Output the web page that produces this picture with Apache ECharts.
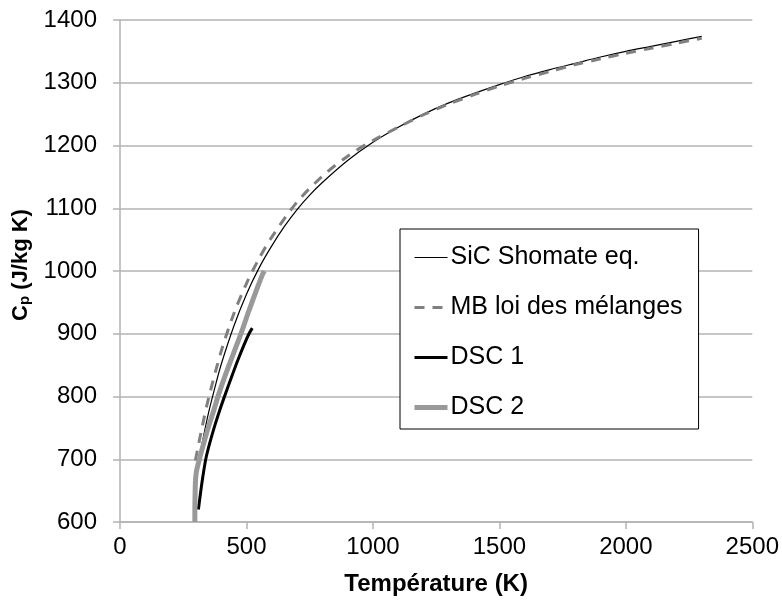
<!DOCTYPE html>
<html>
<head>
<meta charset="utf-8">
<script src="https://cdn.jsdelivr.net/npm/echarts@6/dist/echarts.min.js"></script>
<style>
  html, body { margin: 0; padding: 0; background: #fff; }
  #chart { width: 782px; height: 603px; }
</style>
</head>
<body>
<div id="chart"></div>
<script>
// SiC Shomate eq.
var shomateT = [300, 325, 350, 375, 400, 450, 500, 550, 600, 650, 700, 750, 800, 900, 1000, 1100, 1200, 1300, 1400, 1500, 1600, 1700, 1800, 1900, 2000, 2100, 2200, 2300];
var shomateCp = [672, 726, 774, 814, 851, 912, 963, 1005, 1040, 1071, 1098, 1121, 1141, 1176, 1205, 1229, 1250, 1268, 1283, 1297, 1310, 1321, 1331, 1341, 1350, 1358, 1366, 1374];
// MB loi des mélanges
var mbT = [298, 325, 350, 400, 450, 500, 550, 600, 700, 800, 900, 1000, 1100, 1200, 1300, 1400, 1500, 1600, 1700, 1800, 1900, 2000, 2100, 2200, 2300];
var mbCp = [698, 752, 797, 872, 932, 980, 1020, 1054, 1110, 1151, 1183, 1208, 1229, 1249, 1266, 1281, 1295, 1307, 1318, 1329, 1338, 1347, 1355, 1363, 1371];
// DSC 1
var dsc1T = [310, 318, 326, 339, 355, 375, 395, 414, 440, 465, 490, 510, 523];
var dsc1Cp = [620, 645, 668, 700, 726, 754, 779, 801, 830, 857, 882, 900, 909];
// DSC 2
var dsc2T = [296, 296, 297, 298, 302, 314, 330, 350, 370, 388, 420, 450, 479, 510, 540, 564, 571];
var dsc2Cp = [600, 620, 645, 662, 680, 700, 724, 752, 777, 801, 838, 870, 901, 937, 970, 995, 1000];

var xTicks = [0, 500, 1000, 1500, 2000, 2500];
var yTicks = [600, 700, 800, 900, 1000, 1100, 1200, 1300, 1400];

function pairs(xs, ys) {
  return xs.map(function (x, i) { return [x, ys[i]]; });
}

var chart = echarts.init(document.getElementById('chart'));
var font = 'Arial, "Liberation Sans", sans-serif';
var gridGray = '#b3b3b3';

var option = {
  backgroundColor: '#fff',
  animation: false,
  textStyle: { fontFamily: font },
  grid: { left: 120, right: 29, top: 20, bottom: 81 },
  xAxis: {
    type: 'value',
    min: xTicks[0],
    max: xTicks[xTicks.length - 1],
    interval: 500,
    name: 'Température (K)',
    nameLocation: 'middle',
    nameGap: 50,
    nameTextStyle: { fontSize: 24, fontWeight: 'bold', color: '#000', fontFamily: font },
    axisLine: { lineStyle: { color: gridGray, width: 1.5 } },
    axisTick: { show: true, length: 7, lineStyle: { color: gridGray, width: 1.5 } },
    axisLabel: { fontSize: 24, color: '#000', margin: 13, fontFamily: font, formatter: function (v) { return String(v); } },
    splitLine: { show: false }
  },
  yAxis: {
    type: 'value',
    min: yTicks[0],
    max: yTicks[yTicks.length - 1],
    interval: 100,
    name: '{c|C}{p|p}{c| (J/kg K)}',
    nameLocation: 'middle',
    nameGap: 88,
    nameTextStyle: {
      padding: [0, 0, 0, 12],
      rich: {
        c: { fontSize: 22, fontWeight: 'bold', color: '#000', fontFamily: font },
        p: { fontSize: 15, fontWeight: 'bold', color: '#000', fontFamily: font, padding: [8, 0, 0, 0] }
      }
    },
    axisLine: { show: true, lineStyle: { color: gridGray, width: 1.5 } },
    axisTick: { show: true, length: 7, lineStyle: { color: gridGray, width: 1.5 } },
    axisLabel: { fontSize: 24, color: '#000', margin: 23, fontFamily: font, formatter: function (v) { return String(v); } },
    splitLine: { show: true, lineStyle: { color: gridGray, width: 1.5 } }
  },
  legend: {
    orient: 'vertical',
    left: 400,
    top: 229,
    padding: [15, 16, 8, 12],
    itemGap: 23,
    itemWidth: 33,
    itemHeight: 14,
    backgroundColor: '#fff',
    borderColor: '#000',
    borderWidth: 1,
    borderRadius: 0,
    itemStyle: { opacity: 0 },
    textStyle: { fontSize: 25, color: '#000', fontFamily: font, lineHeight: 27, padding: [0, 0, 0, -2] },
    data: [
      { name: 'SiC Shomate eq.', lineStyle: { width: 1.2 } },
      { name: 'MB loi des mélanges', lineStyle: { width: 3 } },
      { name: 'DSC 1', lineStyle: { width: 3 } },
      { name: 'DSC 2', lineStyle: { width: 5 } }
    ]
  },
  series: [
    {
      name: 'SiC Shomate eq.',
      type: 'line',
      showSymbol: false,
      symbol: 'none',
      smooth: 0.3,
      lineStyle: { color: '#000', width: 1.2 },
      itemStyle: { color: '#000' },
      data: pairs(shomateT, shomateCp)
    },
    {
      name: 'MB loi des mélanges',
      type: 'line',
      showSymbol: false,
      symbol: 'none',
      smooth: 0.3,
      lineStyle: { color: '#808080', width: 3, type: [10, 8] },
      itemStyle: { color: '#808080' },
      data: pairs(mbT, mbCp)
    },
    {
      name: 'DSC 1',
      type: 'line',
      showSymbol: false,
      symbol: 'none',
      smooth: 0.3,
      lineStyle: { color: '#000', width: 3 },
      itemStyle: { color: '#000' },
      data: pairs(dsc1T, dsc1Cp)
    },
    {
      name: 'DSC 2',
      type: 'line',
      showSymbol: false,
      symbol: 'none',
      smooth: 0.3,
      lineStyle: { color: '#999999', width: 5 },
      itemStyle: { color: '#999999' },
      data: pairs(dsc2T, dsc2Cp)
    }
  ]
};

chart.setOption(option);
</script>
</body>
</html>
